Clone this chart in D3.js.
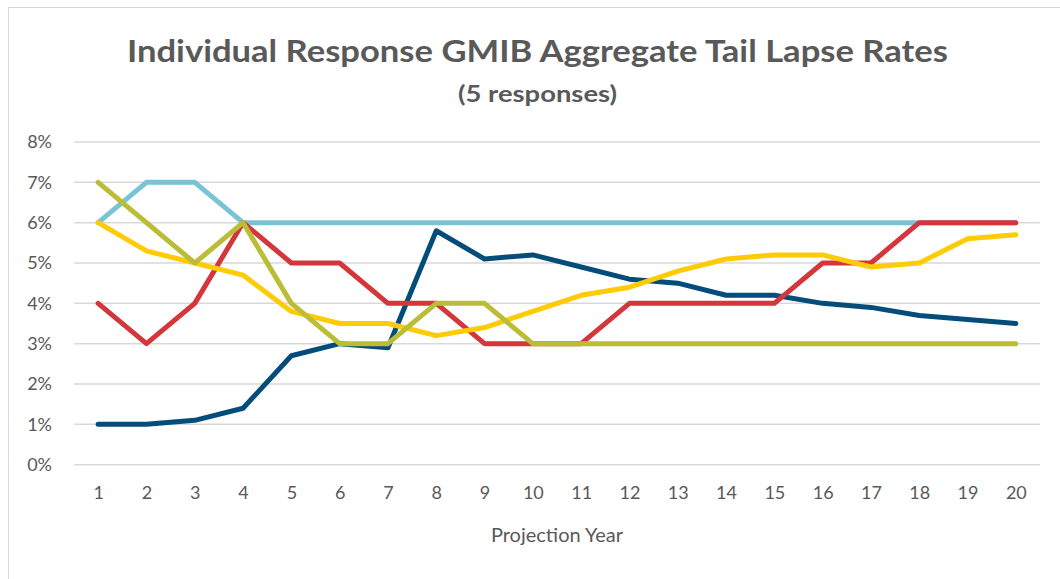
<!DOCTYPE html>
<html><head><meta charset="utf-8">
<script src="https://cdn.jsdelivr.net/npm/d3@7"></script>
<style>html,body{margin:0;padding:0;background:#fff;}svg{display:block;}</style>
</head><body>
<svg id="c" width="1060" height="579"></svg>
<script>
const years = d3.range(1, 21).map(String);
const yTicks = [0, 1, 2, 3, 4, 5, 6, 7, 8];
const darkBlue  = [1.0,1.0,1.1,1.4,2.7,3.0,2.9,5.8,5.1,5.2,4.9,4.6,4.5,4.2,4.2,4.0,3.9,3.7,3.6,3.5];
const lightBlue = [6,7,7,6,6,6,6,6,6,6,6,6,6,6,6,6,6,6,6,6];
const red       = [4,3,4,6,5,5,4,4,3,3,3,4,4,4,4,5,5,6,6,6];
const yellow    = [6.0,5.3,5.0,4.7,3.8,3.5,3.5,3.2,3.4,3.8,4.2,4.4,4.8,5.1,5.2,5.2,4.9,5.0,5.6,5.7];
const olive     = [7,6,5,6,4,3,3,4,4,3,3,3,3,3,3,3,3,3,3,3];
const seriesList = [
  {name:"Response 1", values: darkBlue,  color:"#044D7B"},
  {name:"Response 2", values: lightBlue, color:"#78C4D4"},
  {name:"Response 3", values: red,       color:"#D4363B"},
  {name:"Response 4", values: yellow,    color:"#FFCB05"},
  {name:"Response 5", values: olive,     color:"#BABD35"}
];

const svg = d3.select("#c");
const font = "Lato, 'Open Sans', sans-serif";
const textColor = "#595959";

svg.append("rect").attr("x",8.5).attr("y",7.5).attr("width",1060).attr("height",600)
  .attr("fill","none").attr("stroke","#D9D9D9").attr("stroke-width",1);

const x = d3.scalePoint().domain(years).range([74, 1040]).padding(0.5);
const y = d3.scaleLinear().domain([0, 8]).range([464.7, 142]);

// gridlines
svg.append("g").selectAll("line").data(yTicks).join("line")
  .attr("x1",74).attr("x2",1040)
  .attr("y1",d=>y(d)).attr("y2",d=>y(d))
  .attr("stroke","#D9D9D9").attr("stroke-width",1.5);

// y axis
const yAxis = svg.append("g").attr("transform","translate(60,0)")
  .call(d3.axisLeft(y).tickValues(yTicks).tickFormat(d=>d+"%").tickSize(0).tickPadding(8));
yAxis.select(".domain").remove();
yAxis.selectAll("text").attr("font-family",font).attr("font-size",18).attr("fill",textColor);

// x axis
const xAxis = svg.append("g").attr("transform","translate(0,482)")
  .call(d3.axisBottom(x).tickSize(0).tickPadding(4));
xAxis.select(".domain").remove();
xAxis.selectAll("text").attr("font-family",font).attr("font-size",18).attr("fill",textColor);

// lines
const line = d3.line().x((d,i)=>x(years[i])).y(d=>y(d));
svg.append("g").selectAll("path").data(seriesList).join("path")
  .attr("d",d=>line(d.values))
  .attr("fill","none").attr("stroke",d=>d.color).attr("stroke-width",5)
  .attr("stroke-linejoin","round").attr("stroke-linecap","round");

// titles
svg.append("text").attr("x",537.5).attr("y",62).attr("text-anchor","middle")
  .attr("font-family",font).attr("font-weight","bold").attr("font-size",31)
  .attr("fill",textColor).attr("textLength",821).attr("lengthAdjust","spacingAndGlyphs")
  .text("Individual Response GMIB Aggregate Tail Lapse Rates");
svg.append("text").attr("x",537.5).attr("y",102).attr("text-anchor","middle")
  .attr("font-family",font).attr("font-weight","bold").attr("font-size",22)
  .attr("fill",textColor).attr("textLength",159).attr("lengthAdjust","spacingAndGlyphs")
  .text("(5 responses)");
svg.append("text").attr("x",557).attr("y",542).attr("text-anchor","middle")
  .attr("font-family",font).attr("font-size",20).attr("fill",textColor)
  .text("Projection Year");
</script>
</body></html>
